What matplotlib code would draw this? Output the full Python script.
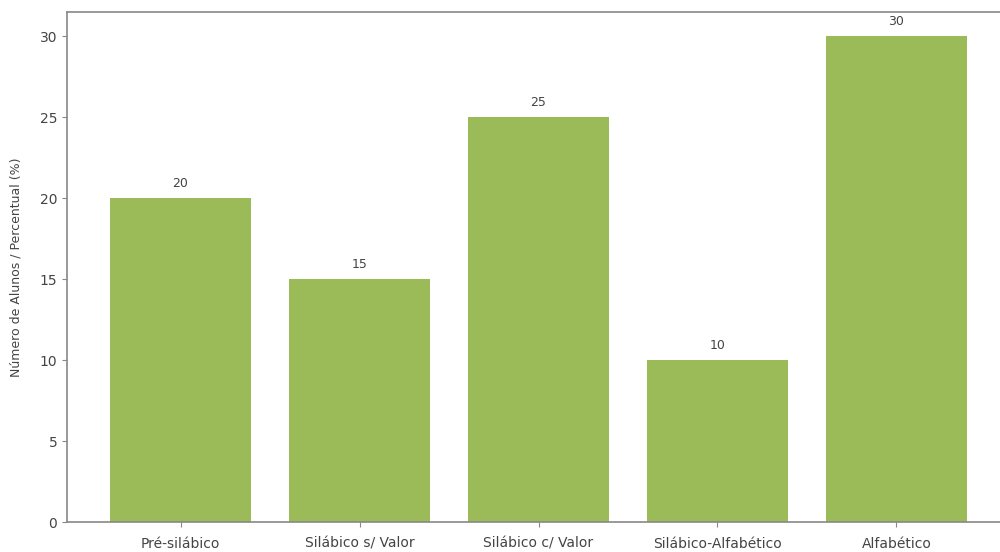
import matplotlib
matplotlib.use("Agg")
import matplotlib.pyplot as plt

categories = ["Pré-silábico", "Silábico s/ Valor", "Silábico c/ Valor", "Silábico-Alfabético", "Alfabético"]
values = [20, 15, 25, 10, 30]

fig = plt.figure(figsize=(10, 5.52), dpi=100)
ax = fig.add_axes([0.067, 30/552, 0.943, 510/552])
bars = ax.bar(categories, values, width=0.79, color="#9BBB59")
for b, v in zip(bars, values):
    ax.annotate(str(v), (b.get_x() + b.get_width()/2, b.get_height()),
                xytext=(0, 6), textcoords="offset points", ha="center", va="bottom",
                fontsize=9, color="#444444")
ax.set_ylabel("Número de Alunos / Percentual (%)", fontsize=9, color="#444444", labelpad=12)
ax.set_yticks([0, 5, 10, 15, 20, 25, 30])
ax.tick_params(labelsize=10, colors="#444444")
ax.tick_params(axis="x", pad=7)
ax.tick_params(color="#888888")
for s in ax.spines.values():
    s.set_color("#888888")
    s.set_linewidth(1.2)
fig.savefig("out.png", dpi=100)
